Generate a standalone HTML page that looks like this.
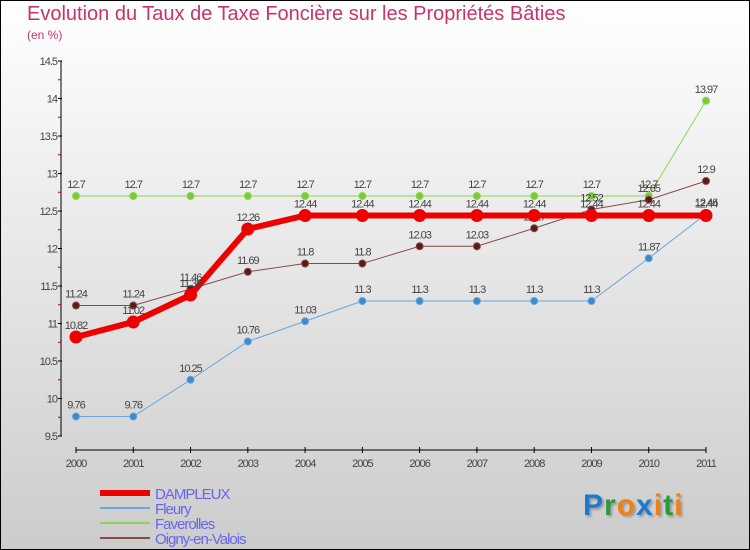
<!DOCTYPE html>
<html><head><meta charset="utf-8"><style>
body{margin:0;}
#wrap{position:relative;width:748px;height:548px;border:1px solid #000;background:linear-gradient(#ffffff,#cccccc);font-family:"Liberation Sans",sans-serif;overflow:hidden}
.t{position:absolute;color:#c8336a}
</style></head><body>
<div id="wrap">
<div class="t" style="left:26px;top:2px;font-size:20px;">Evolution du Taux de Taxe Foncière sur les Propriétés Bâties</div>
<div class="t" style="left:26px;top:27px;font-size:12px;">(en %)</div>
<svg id="c" width="750" height="550" style="position:absolute;left:-1px;top:-1px"></svg>
<div style="position:absolute;left:582px;top:488px;font:bold 30px 'Liberation Sans',sans-serif;letter-spacing:1px;text-shadow:2px 2px 2px #999"><span style="color:#1a7bd0">P</span><span style="color:#2a9a3a">r</span><span style="color:#f08010">o</span><span style="color:#1a7bd0">x</span><span style="color:#f08010">i</span><span style="color:#2a9a3a">t</span><span style="color:#f08010">i</span></div>
</div>
<script>
const years=["2000","2001","2002","2003","2004","2005","2006","2007","2008","2009","2010","2011"];
const yTicks=[9.5,10,10.5,11,11.5,12,12.5,13,13.5,14,14.5];
const dampleux=[10.82,11.02,11.38,12.26,12.44,12.44,12.44,12.44,12.44,12.44,12.44,12.44];
const fleury=[9.76,9.76,10.25,10.76,11.03,11.3,11.3,11.3,11.3,11.3,11.87,12.46];
const faverolles=[12.7,12.7,12.7,12.7,12.7,12.7,12.7,12.7,12.7,12.7,12.7,13.97];
const oigny=[11.24,11.24,11.46,11.69,11.8,11.8,12.03,12.03,12.27,12.52,12.65,12.9];
const series=[
 {name:"Faverolles",d:faverolles,c:"#8fd45a",w:1,r:3.5,fill:"#77cc33"},
 {name:"Fleury",d:fleury,c:"#6aa6d8",w:1,r:3.5,fill:"#3a8ad0"},
 {name:"Oigny-en-Valois",d:oigny,c:"#8a4a4a",w:1,r:3.5,fill:"#5a1a1a"},
 {name:"DAMPLEUX",d:dampleux,c:"#ee0000",w:6,r:6,fill:"#ee0000"}];
const svg=document.getElementById('c'),NS="http://www.w3.org/2000/svg";
const X=i=>76+i*(706-76)/(years.length-1);
const Y=v=>436-(v-9.5)*75;
function mk(t,a,txt){const e=document.createElementNS(NS,t);for(const k in a)e.setAttribute(k,a[k]);if(txt!==undefined)e.textContent=txt;svg.appendChild(e);return e;}
const ax=mk('line',{x1:61,y1:Y(14.5),x2:61,y2:Y(9.5),stroke:'#000','stroke-width':1});


yTicks.forEach((v,i)=>{
 mk('line',{x1:58,x2:62,y1:Y(v),y2:Y(v),stroke:'#000'});
 if(i<yTicks.length-1) mk('line',{x1:58,x2:61,y1:Y(v+0.25),y2:Y(v+0.25),stroke:'#c00'});
 const t=mk('text',{x:57,y:Y(v)+4,'text-anchor':'end','font-size':11,fill:'#444','letter-spacing':'-1'},String(v));
 
 
});
const xa=mk('line',{x1:76,y1:450,x2:706,y2:450,stroke:'#000'});


years.forEach((y,i)=>{
 mk('line',{x1:X(i),x2:X(i),y1:447,y2:453,stroke:'#000'});
 const t=mk('text',{x:X(i),y:467,'text-anchor':'middle','font-size':11,fill:'#444','letter-spacing':'-1'},y);
 
 
});
series.forEach(s=>{
 const p=mk('polyline',{points:s.d.map((v,i)=>X(i)+','+Y(v)).join(' '),fill:'none',stroke:s.c,'stroke-width':s.w});
 
 
 s.d.forEach((v,i)=>{
  const c=mk('circle',{cx:X(i),cy:Y(v),r:s.r,fill:s.fill,stroke:s.c,'stroke-width':1});
  
  
  const t=mk('text',{x:X(i),y:Y(v)-8,'text-anchor':'middle','font-size':11,fill:'#444','letter-spacing':'-1'},String(v));
  
  
 });
});
const leg=[["DAMPLEUX","#ee0000",6],["Fleury","#6aa6d8",2],["Faverolles","#8fd45a",2],["Oigny-en-Valois","#8a4a4a",2]];
leg.forEach((l,i)=>{
 const y=493+i*15;
 const ln=mk('line',{x1:100,x2:150,y1:y,y2:y,stroke:l[1],'stroke-width':l[2]});
 
 
 const t=mk('text',{x:155,y:y+6,'font-size':15,fill:'#6666ee','letter-spacing':'-1'},l[0]);
 
 
});
</script>
</body></html>
